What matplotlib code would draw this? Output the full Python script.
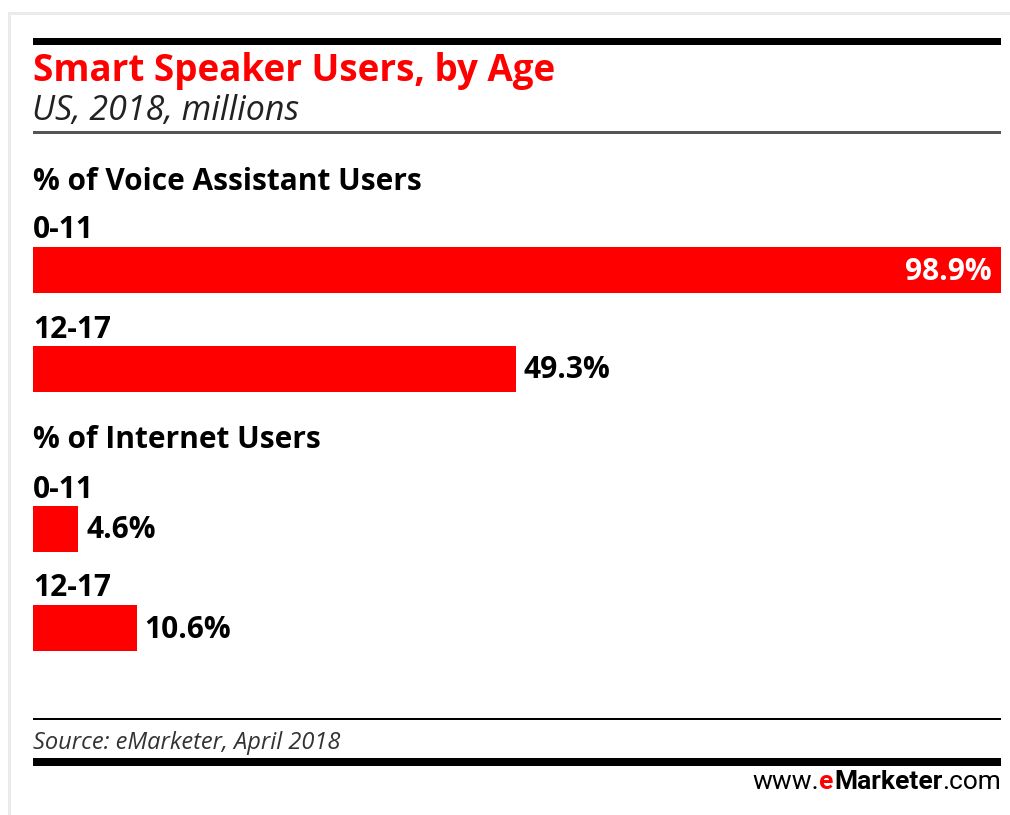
import matplotlib
matplotlib.use("Agg")
import matplotlib.pyplot as plt
from matplotlib.patches import Rectangle

# ---- data ----
title = "Smart Speaker Users, by Age"
subtitle = "US, 2018, millions"
sections = ["% of Voice Assistant Users", "% of Internet Users"]
age_groups = ["0-11", "12-17"]
voice_assistant_pct = [98.9, 49.3]
internet_pct = [4.6, 10.6]
source = "Source: eMarketer, April 2018"

RED = "#ff0000"
FONT = "Open Sans"
W, H = 1010, 815
LBL = 21.5

fig = plt.figure(figsize=(W / 100, H / 100), dpi=100)
fig.patch.set_facecolor("white")

# overlay axes in pixel coords for decorations
deco = fig.add_axes([0, 0, 1, 1])
deco.set_xlim(0, W)
deco.set_ylim(H, 0)
deco.axis("off")

# light gray frame
deco.add_patch(Rectangle((8, 12), W - 8, 3, color="#ebebeb", lw=0))
deco.add_patch(Rectangle((8, 12), 3, H - 12, color="#ebebeb", lw=0))

X0, X1 = 33, 1001
# rules
deco.add_patch(Rectangle((X0, 38), X1 - X0, 7, color="black", lw=0))
deco.add_patch(Rectangle((X0, 131), X1 - X0, 2.5, color="#555555", lw=0))
deco.add_patch(Rectangle((X0, 718), X1 - X0, 1.8, color="black", lw=0))
deco.add_patch(Rectangle((X0, 758), X1 - X0, 8, color="black", lw=0))

deco.text(X0, 71, title, color=RED, fontsize=26.5, fontweight="bold",
          family=FONT, va="center", ha="left")
deco.text(X0 - 1, 111, subtitle, color="#222222", fontsize=24.5, style="italic",
          family=FONT, va="center", ha="left")
deco.text(X0, 743, source, color="#333333", fontsize=17, style="italic",
          family=FONT, va="center", ha="left")

# bars axes: x in percent, y in pixel rows
ax = fig.add_axes([X0 / W, 0, (X1 - X0) / W, 1])
ax.set_xlim(0, max(voice_assistant_pct))
ax.set_ylim(H, 0)
ax.axis("off")

bar_h = 46
section_y = [179, 438]
label_offsets = [49, 148]   # category label rows relative to section header
bar_offsets = [91, 190]     # bar centre rows relative to section header
series = [voice_assistant_pct, internet_pct]
TXT_DY = 2.5

for sec, sy, vals in zip(sections, section_y, series):
    ax.text(0, sy + TXT_DY, sec, fontsize=LBL, fontweight="bold", family=FONT,
            va="center", ha="left", color="black")
    for i, (grp, v) in enumerate(zip(age_groups, vals)):
        ax.text(0, sy + label_offsets[i] + TXT_DY, grp, fontsize=LBL,
                fontweight="bold", family=FONT, va="center", ha="left",
                color="black")
        yc = sy + bar_offsets[i]
        ax.barh(yc, v, height=bar_h, left=0, color=RED, edgecolor="none")
        lab = f"{v:.1f}%"
        if v > 90:
            ax.annotate(lab, (v, yc), xytext=(-9, -1.5), textcoords="offset pixels",
                        fontsize=LBL, fontweight="bold", family=FONT,
                        va="center", ha="right", color="white")
        else:
            ax.annotate(lab, (v, yc), xytext=(8, -1.5), textcoords="offset pixels",
                        fontsize=LBL, fontweight="bold", family=FONT,
                        va="center", ha="left", color="black")

# www.eMarketer.com, right aligned
pieces = [("www.", "normal", "black"), ("e", "bold", RED),
          ("Marketer", "bold", "black"), (".com", "normal", "black")]
fig.canvas.draw()
r = fig.canvas.get_renderer()
texts = []
for s, wt, c in pieces:
    t = deco.text(0, 782, s, fontsize=19, fontweight=wt, color=c,
                  family="Roboto", va="center", ha="left")
    texts.append(t)
widths = [t.get_window_extent(renderer=r).width for t in texts]
x = X1 - sum(widths)
for t, w in zip(texts, widths):
    t.set_x(x)
    x += w

fig.savefig("out.png", dpi=100, facecolor="white")
